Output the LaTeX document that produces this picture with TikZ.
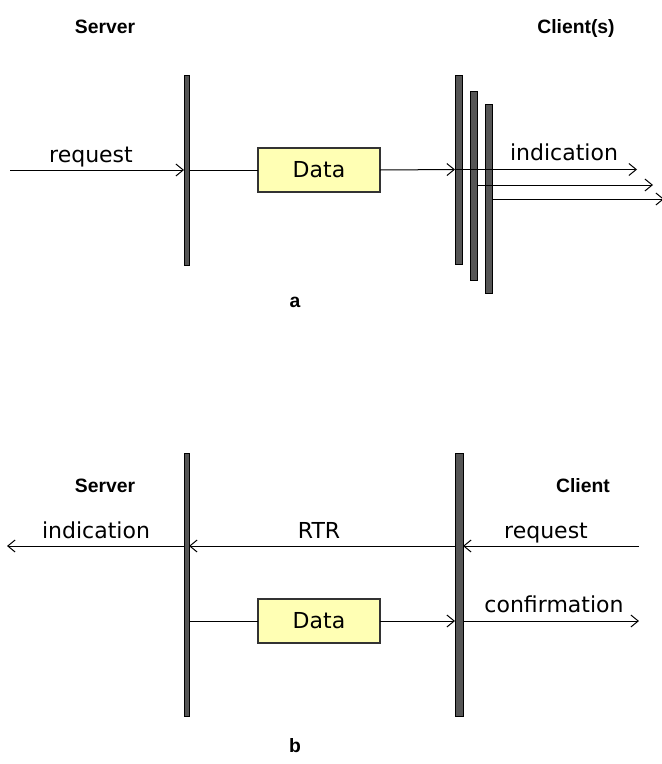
\documentclass[tikz,border=0pt]{standalone}
\usepackage{fontspec}
\setmainfont{DejaVu Sans}
\newfontfamily\titlefont{Liberation Sans}
\usetikzlibrary{arrows.meta}
\definecolor{barfill}{HTML}{555555}
\definecolor{datafill}{HTML}{FFFFB4}
\begin{document}
\begin{tikzpicture}[x=0.75pt,y=-0.75pt,
  every node/.style={inner sep=0pt, outer sep=0pt},
  bar/.style={draw=black, fill=barfill, line width=0.75pt, anchor=north west, inner sep=0pt},
  databox/.style={draw=black!80, fill=datafill, line width=0.9pt, minimum width=91.5pt, minimum height=33pt,
    font=\fontsize{16.5}{18}\selectfont},
  lbl/.style={anchor=base, font=\fontsize{16.5}{18}\selectfont},
  ttl/.style={anchor=base, font=\titlefont\bfseries\fontsize{14.5}{16}\selectfont},
  conn/.style={line width=0.75pt, draw=black},
  arr/.style={conn, -{Straight Barb[length=5.5pt,width=9pt]}}]
\useasboundingbox (0,0) rectangle (661,764);
% ---------- part a ----------
\node[ttl] (t1) at (105,33) {Server};
\node[ttl] (t2) at (576,33) {Client(s)};
\node[bar, minimum width=3.75pt, minimum height=142.5pt] (sa) at (184,75) {};
\node[databox] (da) at (319,170) {Data};
\coordinate (ain) at (10,170);
\coordinate (o1) at (637,169.5);
\coordinate (o2) at (653,185);
\coordinate (o3) at (664,199);
\draw[arr] (ain) -- (sa.west);
\node[lbl] (l1) at (91,162) {request};
\draw[conn] (sa.east) -- (da.west);
\node[bar, minimum width=5.25pt, minimum height=141.75pt] (c1) at (455,75) {};
\node[bar, minimum width=5.25pt, minimum height=141.75pt] (c2) at (470,91) {};
\node[bar, minimum width=5.25pt, minimum height=141.75pt] (c3) at (485,104) {};
\draw[arr] (da.east) -- (c1.west);
\draw[arr] (c1.west) -- (o1);
\draw[arr] (c2.east |- o2) -- (o2);
\draw[arr] (c3.east |- o3) -- (o3);
\node[lbl] (l2) at (564,160) {indication};
\node[ttl] (ta) at (295,307) {a};
% ---------- part b ----------
\node[ttl] (t3) at (105,492) {Server};
\node[ttl] (t4) at (583,492) {Client};
\node[bar, minimum width=3.75pt, minimum height=197.25pt] (sb) at (184,453) {};
\node[bar, minimum width=6pt, minimum height=197.25pt] (cb) at (455,453) {};
\node[databox] (db) at (319,621) {Data};
\coordinate (rin) at (639,546);
\coordinate (iout) at (7,546);
\coordinate (cout) at (639,621);
\draw[arr] (rin) -- (cb.east |- rin);
\draw[arr] (cb.west |- rin) -- (sb.east |- rin);
\draw[arr] (sb.west |- rin) -- (iout);
\draw[conn] (sb.east |- db) -- (db.west);
\draw[arr] (db.east) -- (cb.west |- db);
\draw[arr] (cb.east |- db) -- (cout);
\node[lbl] (l3) at (96,538) {indication};
\node[lbl] (l4) at (319,538) {RTR};
\node[lbl] (l5) at (546,538) {request};
\node[lbl] (l6) at (554,612) {confirmation};
\node[ttl] (tb) at (295,752) {b};
\end{tikzpicture}
\end{document}
